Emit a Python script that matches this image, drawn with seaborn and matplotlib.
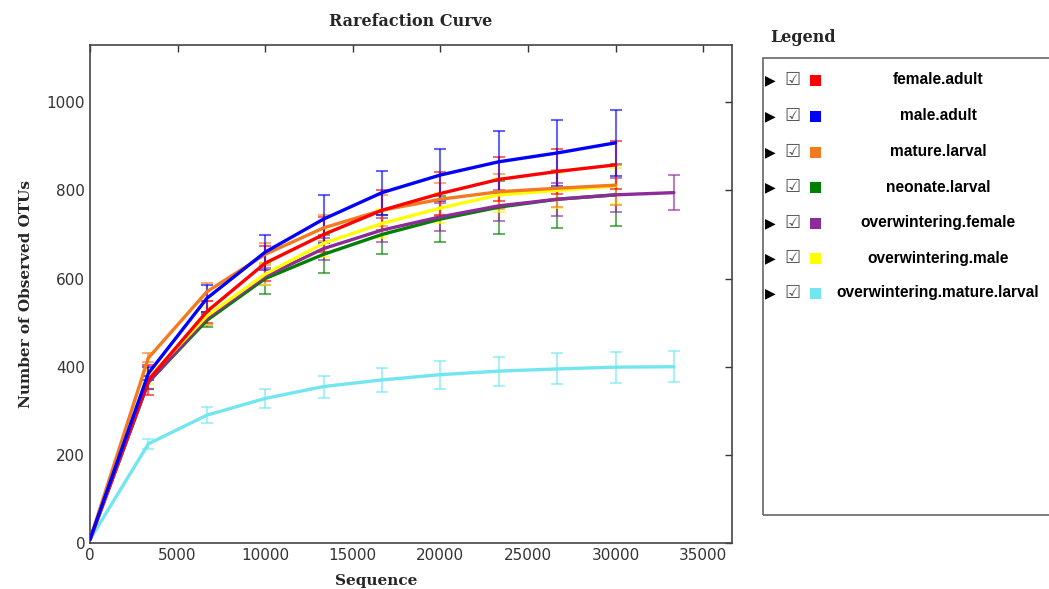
import numpy as np
import pandas as pd
import matplotlib
matplotlib.use("Agg")
import matplotlib.pyplot as plt
import seaborn as sns
from matplotlib.patches import Rectangle

# ---------------- data ----------------
depths_short = [0, 3333, 6667, 10000, 13333, 16667, 20000, 23333, 26667, 30000]
depths_long = [0, 3333, 6667, 10000, 13333, 16667, 20000, 23333, 26667, 30000, 33333]

groups = ["female.adult", "male.adult", "mature.larval", "neonate.larval",
          "overwintering.female", "overwintering.male", "overwintering.mature.larval"]
colors = ["#ff0000", "#0000ff", "#f47a20", "#008000", "#8e2b9a", "#ffff00", "#72e6f0"]

female_adult = [8, 370, 525, 635, 700, 755, 793, 825, 843, 858]
female_adult_err = [0, 35, 25, 40, 40, 45, 48, 50, 52, 55]
male_adult = [8, 385, 555, 660, 735, 795, 835, 865, 885, 908]
male_adult_err = [0, 15, 30, 40, 55, 50, 60, 70, 75, 75]
mature_larval = [8, 420, 570, 655, 715, 755, 780, 797, 805, 812]
mature_larval_err = [0, 10, 20, 25, 30, 35, 38, 40, 42, 45]
neonate_larval = [8, 365, 505, 600, 655, 700, 735, 762, 780, 790]
neonate_larval_err = [0, 15, 15, 35, 43, 45, 52, 60, 65, 70]
ow_female = [8, 365, 510, 605, 668, 710, 740, 765, 780, 790, 795]
ow_female_err = [0, 15, 15, 20, 25, 28, 32, 35, 37, 38, 39]
ow_male = [8, 375, 515, 610, 680, 725, 760, 790, 800, 810]
ow_male_err = [0, 15, 20, 25, 30, 32, 35, 38, 40, 40]
ow_mature_larval = [8, 225, 290, 328, 355, 370, 382, 390, 395, 399, 400]
ow_mature_larval_err = [0, 12, 18, 22, 25, 28, 32, 33, 35, 35, 35]

series = [
    (female_adult, female_adult_err, depths_short),
    (male_adult, male_adult_err, depths_short),
    (mature_larval, mature_larval_err, depths_short),
    (neonate_larval, neonate_larval_err, depths_short),
    (ow_female, ow_female_err, depths_long),
    (ow_male, ow_male_err, depths_short),
    (ow_mature_larval, ow_mature_larval_err, depths_long),
]

rows = []
for g, (vals, errs, xs) in zip(groups, series):
    for x, v, e in zip(xs, vals, errs):
        rows.append({"group": g, "depth": x, "otus": v, "err": e})
df = pd.DataFrame(rows)

# ---------------- figure ----------------
sns.set_theme(style="white")
plt.rcParams['font.family'] = ['DejaVu Sans']

fig = plt.figure(figsize=(10.49, 5.89), dpi=100)
ax = fig.add_axes([90/1049, 1-543/589, (732-90)/1049, (543-45)/589])

palette = dict(zip(groups, colors))
draw_order = ["overwintering.mature.larval", "neonate.larval", "overwintering.female",
              "overwintering.male", "mature.larval", "female.adult", "male.adult"]
for g in draw_order:
    sub = df[df.group == g]
    ax.errorbar(sub.depth[1:], sub.otus[1:], yerr=sub.err[1:], fmt="none",
                ecolor=palette[g], elinewidth=1.5, capsize=4, capthick=1.5, alpha=0.6, zorder=2)
for g in draw_order:
    sub = df[df.group == g]
    sns.lineplot(data=sub, x="depth", y="otus", color=palette[g], linewidth=2.4,
                 ax=ax, legend=False, zorder=3, errorbar=None)

ax.set_xlim(0, 36650)
ax.set_ylim(0, 1130)
ax.set_xticks(range(0, 35001, 5000))
ax.set_yticks(range(0, 1001, 200))
ax.tick_params(direction="in", length=5, width=1, top=True, right=True,
               labelsize=11, labelcolor="#333333", colors="#333333")
for lab in ax.get_xticklabels() + ax.get_yticklabels():
    lab.set_color("#333333")
for s in ax.spines.values():
    s.set_color("#444444")
    s.set_linewidth(1.2)

ax.set_xlabel("Sequence", family="serif", fontweight="bold", fontsize=11)
ax.set_ylabel("Number of Observed OTUs", family="serif", fontweight="bold", fontsize=11, labelpad=10)
ax.xaxis.set_label_coords(0.445, -0.063)
ax.set_title("Rarefaction Curve", family="serif", fontweight="bold", fontsize=11.5, pad=14)

# ---------------- legend panel ----------------
fig.text(770/1049, 1-37/589, "Legend", family="serif", fontweight="bold", fontsize=11.5,
         ha="left", va="center")
fig.patches.append(Rectangle((763/1049, 1-515/589), (1060-763)/1049, (515-58)/589,
                             transform=fig.transFigure, fill=False, edgecolor="#666666",
                             linewidth=1.2))
row_y = [80, 116, 152, 187, 223, 258, 293]
for g, c, y in zip(groups, colors, row_y):
    fy = 1 - y/589
    fig.text(770/1049, fy, "\u25B6", fontsize=10, ha="center", va="center", color="black")
    fig.text(792/1049, fy, "\u2611", fontsize=13, ha="center", va="center", color="#555555")
    fig.patches.append(Rectangle((810/1049, fy - 6/589), 11/1049, 11/589,
                                 transform=fig.transFigure, facecolor=c, edgecolor="none"))
    fig.text(938/1049, fy, g, family=["Liberation Sans", "DejaVu Sans"], fontweight="bold",
             fontsize=11.2, ha="center", va="center", color="black")

fig.savefig("out.png", dpi=100)
